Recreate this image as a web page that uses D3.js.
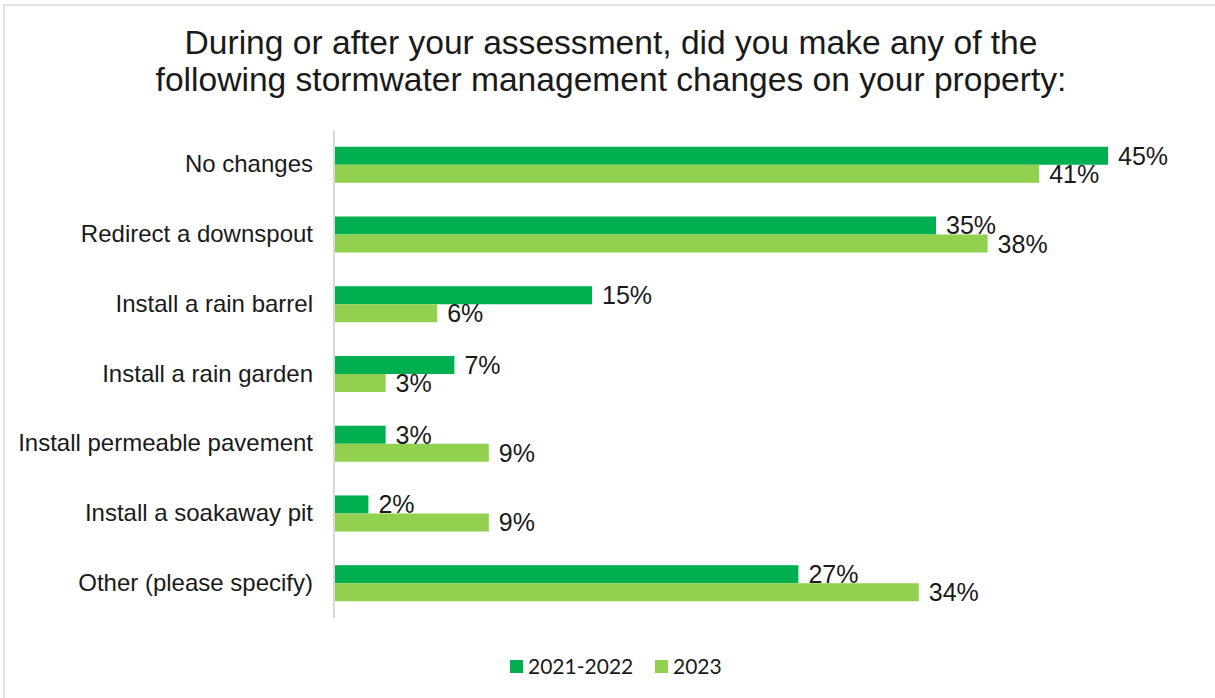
<!DOCTYPE html>
<html>
<head>
<meta charset="utf-8">
<script src="https://cdn.jsdelivr.net/npm/d3@7"></script>
<style>
  html, body { margin: 0; padding: 0; background: #fff; }
  svg { display: block; }
</style>
</head>
<body>
<svg id="chart" width="1215" height="698"></svg>
<script>
// Survey answers: share of respondents per change, by survey period
const categories = [
  "No changes",
  "Redirect a downspout",
  "Install a rain barrel",
  "Install a rain garden",
  "Install permeable pavement",
  "Install a soakaway pit",
  "Other (please specify)"
];
const seriesNames = ["2021-2022", "2023"];
const values2021_2022 = [45, 35, 15, 7, 3, 2, 27];
const values2023 = [41, 38, 6, 3, 9, 9, 34];
const titleLines = [
  "During or after your assessment, did you make any of the",
  "following stormwater management changes on your property:"
];

const colors = ["#00B050", "#92D050"];
const series = [values2021_2022, values2023];
const font = "Liberation Sans, Arial, sans-serif";
const textColor = "#1a1a1a";

const svg = d3.select("#chart");
const W = 1215, H = 698;

// Frame
svg.append("rect")
  .attr("x", 4).attr("y", 5)
  .attr("width", W + 10).attr("height", H + 10)
  .attr("fill", "none")
  .attr("stroke", "#e3e3e3")
  .attr("stroke-width", 2);

// Title
svg.append("g").selectAll("text")
  .data(titleLines)
  .join("text")
  .attr("x", 611)
  .attr("y", (d, i) => 54 + i * 37)
  .attr("text-anchor", "middle")
  .attr("font-family", font)
  .attr("font-size", 33.6)
  .attr("fill", textColor)
  .text(d => d);

const plot = { left: 334, top: 130, bottom: 618 };

const x = d3.scaleLinear().domain([0, 45]).range([plot.left, 1108]);
const y = d3.scaleBand().domain(categories).range([plot.top, plot.bottom]).paddingInner(0.483).paddingOuter(0.24);
const ySub = d3.scaleBand().domain(seriesNames).range([0, y.bandwidth()]);

// Category axis
const yAxis = d3.axisLeft(y).tickSize(0).tickPadding(21);
const axisG = svg.append("g")
  .attr("transform", `translate(${plot.left},0)`)
  .call(yAxis);
axisG.select(".domain")
  .attr("d", `M0,${plot.top}V${plot.bottom}`)
  .attr("stroke", "#d9d9d9")
  .attr("stroke-width", 2);
axisG.selectAll(".tick text")
  .attr("font-family", font)
  .attr("font-size", 24)
  .attr("fill", textColor);

// Bars and value labels
const rows = categories.map((c, i) => ({ c, v: series.map(s => s[i]) }));
const groups = svg.append("g").selectAll("g")
  .data(rows)
  .join("g")
  .attr("transform", d => `translate(0,${y(d.c)})`);

groups.selectAll("rect")
  .data(d => d.v.map((v, k) => ({ v, k })))
  .join("rect")
  .attr("x", x(0) + 1)
  .attr("y", d => ySub(seriesNames[d.k]))
  .attr("width", d => x(d.v) - x(0) - 1)
  .attr("height", ySub.bandwidth())
  .attr("fill", d => colors[d.k]);

groups.selectAll("text")
  .data(d => d.v.map((v, k) => ({ v, k })))
  .join("text")
  .attr("x", d => x(d.v) + 10)
  .attr("y", d => ySub(seriesNames[d.k]) + ySub.bandwidth() / 2)
  .attr("dy", "0.36em")
  .attr("font-family", font)
  .attr("font-size", 25)
  .attr("fill", textColor)
  .text(d => d.v + "%");

// Legend
const legendX = [510, 655];
const legend = svg.append("g").selectAll("g")
  .data(seriesNames)
  .join("g")
  .attr("transform", (d, i) => `translate(${legendX[i]},660)`);
legend.append("rect")
  .attr("width", 13).attr("height", 13)
  .attr("fill", (d, i) => colors[i]);
legend.append("text")
  .attr("x", 18).attr("y", 6.5)
  .attr("dy", "0.36em")
  .attr("font-family", "Lato, Open Sans, sans-serif")
  .attr("font-size", 21)
  .attr("fill", textColor)
  .text(d => d);
</script>
</body>
</html>
